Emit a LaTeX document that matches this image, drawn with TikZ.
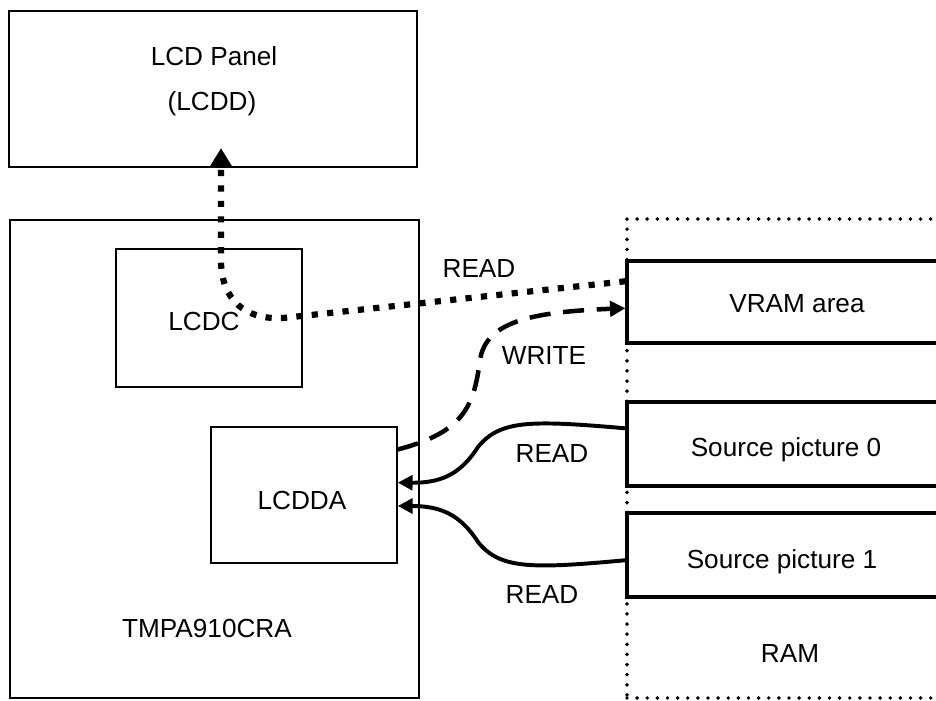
\documentclass[tikz,border=0pt]{standalone}
\usepackage{fontspec}
\setmainfont{Liberation Sans}
\usetikzlibrary{arrows.meta,calc}
\tikzset{
  box/.style={draw, line width=1.1pt, inner sep=0pt},
  membox/.style={draw, line width=2.2pt, inner sep=0pt},
  ramarea/.style={draw, line width=2.8pt, line cap=round, dash pattern=on 0pt off 7.2pt, inner sep=0pt},
  lbl/.style={font=\fontsize{18.6}{22}\selectfont, anchor=base, inner sep=0pt},
  rdflow/.style={line width=4.4pt, dash pattern=on 4.4pt off 6.6pt, -{Triangle[length=14pt,width=16pt]}},
  wrflow/.style={line width=3.2pt, dash pattern=on 15pt off 9pt, -{Triangle[length=11pt,width=11pt]}},
  rflow/.style={line width=2.8pt, -{Triangle[length=10.5pt,width=10.5pt]}},
}
\begin{document}
\begin{tikzpicture}[x=0.025cm, y=-0.025cm]
    \clip (0,0) rectangle (936,700);
    \node[box, minimum width=408*0.025cm, minimum height=156*0.025cm] (lcd) at (213,89) {};
    \node[lbl] (lcdname) at (214,65) {LCD Panel};
    \node[lbl] (lcdtag) at (212,110) {(LCDD)};
    \node[box, minimum width=409*0.025cm, minimum height=478*0.025cm] (cpu) at (214.5,459) {};
    \node[lbl] (cpuname) at (207,637) {TMPA910CRA};
    \node[box, minimum width=186*0.025cm, minimum height=138*0.025cm] (lcdc) at (209,318) {};
    \node[lbl] (lcdcname) at (204,330) {LCDC};
    \node[box, minimum width=186*0.025cm, minimum height=136*0.025cm] (lcdda) at (304,495) {};
    \node[lbl] (lcddaname) at (302,509) {LCDDA};
    \node[ramarea, minimum width=373*0.025cm, minimum height=479*0.025cm] (ram) at (813.5,458.5) {};
    \node[lbl] (ramname) at (790,662) {RAM};
    \node[membox, minimum width=363*0.025cm, minimum height=82*0.025cm] (vram) at (808.5,302) {};
    \node[lbl] (vramname) at (797,312) {VRAM area};
    \node[membox, minimum width=363*0.025cm, minimum height=84*0.025cm] (src0) at (808.5,444) {};
    \node[lbl] (src0name) at (786,456) {Source picture 0};
    \node[membox, minimum width=363*0.025cm, minimum height=84*0.025cm] (src1) at (808.5,555) {};
    \node[lbl] (src1name) at (782,568) {Source picture 1};
    \coordinate (bend) at (221,262);
    \draw[rdflow, shorten >=-14pt] ($(vram.north west)!0.256!(vram.south west)$) -- (283,318)
      .. controls (245,320) and (222,300) .. (bend) -- (bend |- lcd.south);
    \node[lbl] (rdvram) at (479,277) {READ};
    \draw[wrflow] ($(lcdda.north east)!0.169!(lcdda.south east)$)
      .. controls (465,432) and (474,405) .. (480,360)
      .. controls (486,322) and (530,312) .. ($(vram.north west)!0.573!(vram.south west)$);
    \node[lbl] (wrvram) at (544,364) {WRITE};
    \draw[rflow] ($(src0.north west)!0.32!(src0.south west)$)
      .. controls (530,420) and (500,420) .. (478,447)
      .. controls (460,475) and (440,483) .. ($(lcdda.north east)!0.41!(lcdda.south east)$);
    \node[lbl] (rdsrc0) at (552,462) {READ};
    \draw[rflow] ($(src1.north west)!0.56!(src1.south west)$)
      .. controls (530,569) and (500,569) .. (478,542)
      .. controls (460,514) and (440,506) .. ($(lcdda.north east)!0.58!(lcdda.south east)$);
    \node[lbl] (rdsrc1) at (542,603) {READ};
\end{tikzpicture}
\end{document}
